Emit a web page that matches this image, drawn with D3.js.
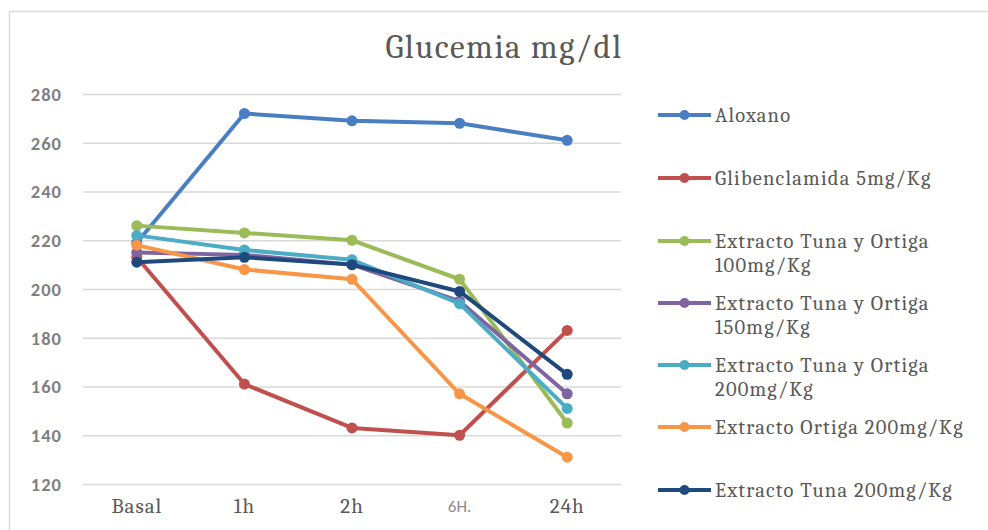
<!DOCTYPE html>
<html>
<head>
<meta charset="utf-8">
<script src="https://cdn.jsdelivr.net/npm/d3@7"></script>
<style>
  html, body { margin: 0; padding: 0; background: #fff; }
  svg { display: block; }
</style>
</head>
<body>
<svg id="chart" width="988" height="530"></svg>
<script>
// Time points and y-axis ticks
const categories = ["Basal", "1h", "2h", "6H.", "24h"];
const yTicks = [120, 140, 160, 180, 200, 220, 240, 260, 280];

// Blood glucose (mg/dl) per treatment group
const seriesNames = [
  "Aloxano",
  "Glibenclamida 5mg/Kg",
  "Extracto Tuna y Ortiga 100mg/Kg",
  "Extracto Tuna y Ortiga 150mg/Kg",
  "Extracto Tuna y Ortiga 200mg/Kg",
  "Extracto Ortiga 200mg/Kg",
  "Extracto Tuna 200mg/Kg"
];
const aloxano      = [219, 272, 269, 268, 261];
const glibenclamida = [213, 161, 143, 140, 183];
const tunaOrtiga100 = [226, 223, 220, 204, 145];
const tunaOrtiga150 = [215, 214, 210, 195, 157];
const tunaOrtiga200 = [222, 216, 212, 194, 151];
const ortiga200     = [218, 208, 204, 157, 131];
const tuna200       = [211, 213, 210, 199, 165];

const colors = ["#4A7EC2", "#C0504D", "#9BBB59", "#8064A2", "#4BACC6", "#F79646", "#1F497D"];

// Legend labels, wrapped as in the chart
const legendLines = [
  ["Aloxano"],
  ["Glibenclamida 5mg/Kg"],
  ["Extracto Tuna y Ortiga", "100mg/Kg"],
  ["Extracto Tuna y Ortiga", "150mg/Kg"],
  ["Extracto Tuna y Ortiga", "200mg/Kg"],
  ["Extracto Ortiga 200mg/Kg"],
  ["Extracto Tuna 200mg/Kg"]
];
const legendY = [115, 178, 241, 303, 365, 427, 490];

const seriesValues = [aloxano, glibenclamida, tunaOrtiga100, tunaOrtiga150, tunaOrtiga200, ortiga200, tuna200];
const series = seriesNames.map((name, i) => ({ name, color: colors[i], values: seriesValues[i] }));

const svg = d3.select("#chart");
const serif = "Cambria, 'Liberation Serif', 'DejaVu Serif', serif";
const sans = "Calibri, 'Liberation Sans', Arial, sans-serif";
const textColor = "#595959";

// Chart frame (top and left edges)
svg.append("path")
  .attr("d", "M9.5,530 L9.5,11.5 L988,11.5")
  .attr("fill", "none")
  .attr("stroke", "#d9d9d9")
  .attr("stroke-width", 1.5);

const x = d3.scaleBand().domain(categories).range([83, 621]);
const y = d3.scaleLinear().domain([120, 280]).range([484, 94]);

// Gridlines
svg.append("g")
  .selectAll("line")
  .data(yTicks)
  .join("line")
  .attr("x1", 83).attr("x2", 621)
  .attr("y1", d => y(d) + 0.5).attr("y2", d => y(d) + 0.5)
  .attr("stroke", "#d9d9d9")
  .attr("stroke-width", 1.5);

// Y axis labels
const yAxis = d3.axisLeft(y).tickValues(yTicks).tickSize(0).tickPadding(0);
const yg = svg.append("g").attr("transform", "translate(62,0)").call(yAxis);
yg.select(".domain").remove();
yg.selectAll("text")
  .attr("font-family", sans)
  .attr("font-size", 18.5)
  .attr("font-weight", "bold")
  .attr("letter-spacing", 1)
  .attr("fill", "#808080")
  .attr("dy", "0.35em");

// X axis labels
const xAxis = d3.axisBottom(x).tickSize(0).tickPadding(0);
const xg = svg.append("g").attr("transform", "translate(0,509)").call(xAxis);
xg.select(".domain").remove();
xg.selectAll("text")
  .attr("font-family", d => d === "6H." ? sans : serif)
  .attr("font-size", d => d === "6H." ? 17 : 21)
  .attr("letter-spacing", d => d === "6H." ? 0 : 1)
  .attr("fill", d => d === "6H." ? "#8c8c8c" : textColor)
  .attr("dy", "0.2em");

// Title
svg.append("text")
  .attr("x", 504).attr("y", 58)
  .attr("text-anchor", "middle")
  .attr("font-family", serif)
  .attr("font-size", 33)
  .attr("letter-spacing", 1.5)
  .attr("fill", textColor)
  .text("Glucemia mg/dl");

// Lines and markers
const cx = d => x(d) + x.bandwidth() / 2;
const line = d3.line()
  .x((v, i) => cx(categories[i]))
  .y(v => y(v));

const gSeries = svg.append("g")
  .selectAll("g")
  .data(series)
  .join("g");

gSeries.append("path")
  .attr("d", d => line(d.values))
  .attr("fill", "none")
  .attr("stroke", d => d.color)
  .attr("stroke-width", 4)
  .attr("stroke-linejoin", "round")
  .attr("stroke-linecap", "round");

gSeries.selectAll("circle")
  .data(d => d.values.map((v, i) => ({ v, i, color: d.color })))
  .join("circle")
  .attr("cx", d => cx(categories[d.i]))
  .attr("cy", d => y(d.v))
  .attr("r", 5.5)
  .attr("fill", d => d.color);

// Legend
const lg = svg.append("g")
  .selectAll("g")
  .data(series)
  .join("g")
  .attr("transform", (d, i) => `translate(0,${legendY[i]})`);

lg.append("line")
  .attr("x1", 658).attr("x2", 711)
  .attr("y1", 0).attr("y2", 0)
  .attr("stroke", d => d.color)
  .attr("stroke-width", 4);

lg.append("circle")
  .attr("cx", 684.5).attr("cy", 0).attr("r", 5)
  .attr("fill", d => d.color);

lg.append("text")
  .attr("x", 715)
  .attr("font-family", serif)
  .attr("font-size", 20.5)
  .attr("letter-spacing", 1.2)
  .attr("fill", textColor)
  .selectAll("tspan")
  .data((d, i) => legendLines[i])
  .join("tspan")
  .attr("x", 715)
  .attr("y", (t, j) => j * 24)
  .attr("dy", "0.35em")
  .text(t => t);
</script>
</body>
</html>
